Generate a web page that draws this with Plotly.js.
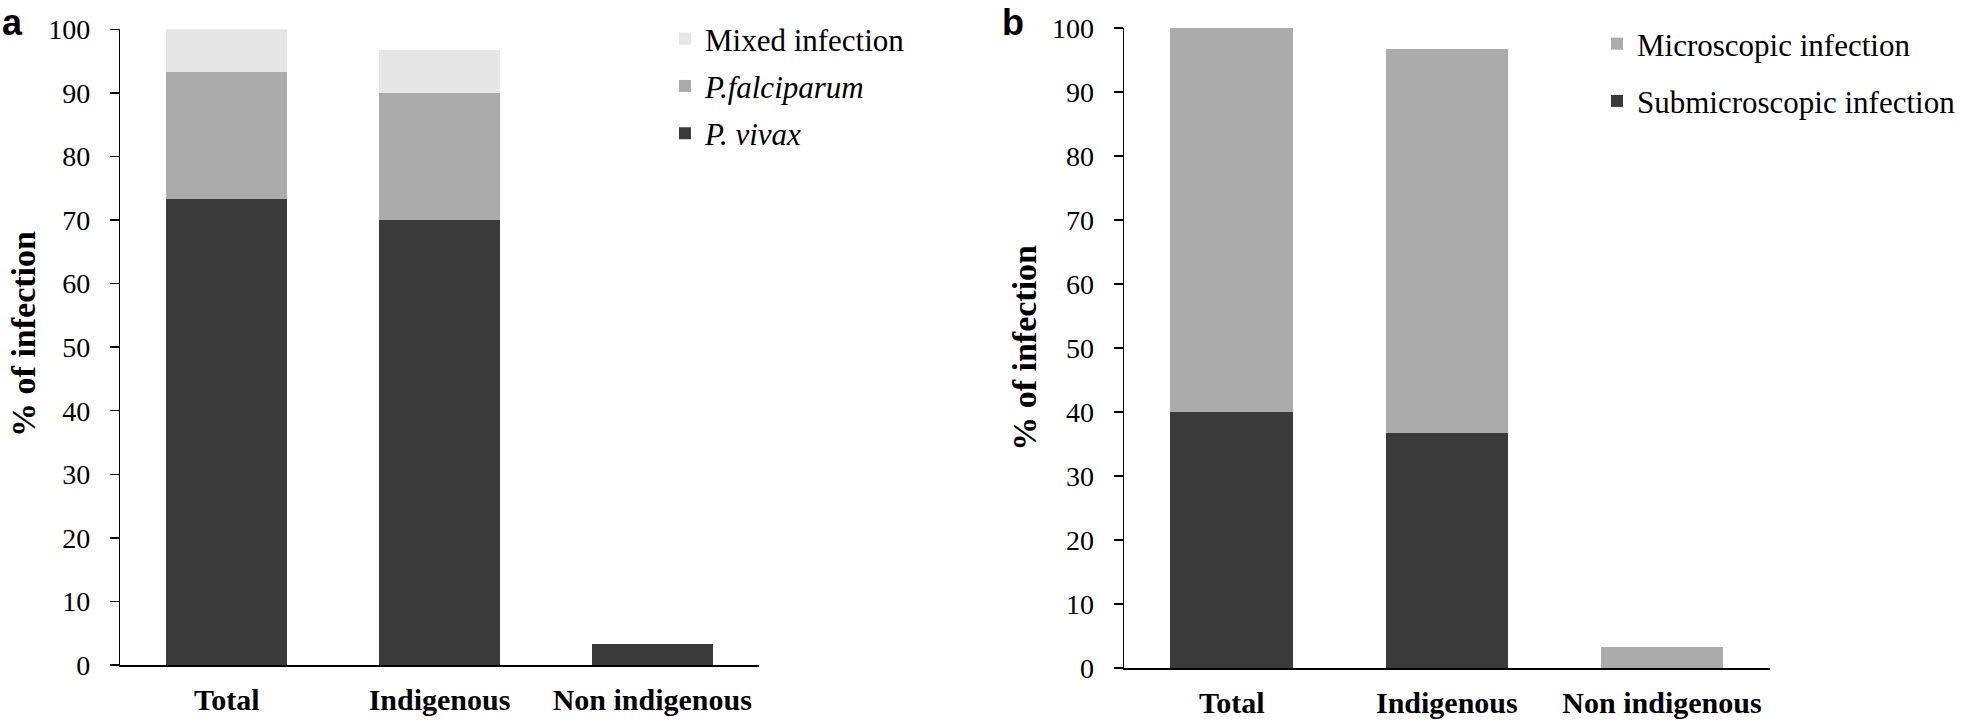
<!DOCTYPE html>
<html>
<head>
<meta charset="utf-8">
<script src="https://cdn.plot.ly/plotly-3.0.1.min.js"></script>
<style>html,body{margin:0;padding:0;background:#fff;}#chart{width:1961px;height:724px;}</style>
</head>
<body>
<div id="chart"></div>
<script>
// ---- data ----
const categories = ["Total", "Indigenous", "Non indigenous"];
// panel a: species (% of infection)
const vivax = [73.3, 70.0, 3.3];
const falciparum = [20.0, 20.0, 0];
const mixed = [6.7, 6.7, 0];
// panel b: detection
const submicroscopic = [40.0, 36.7, 0];
const microscopic = [60.0, 60.0, 3.3];
const yTicks = [0, 10, 20, 30, 40, 50, 60, 70, 80, 90, 100];

const W = 1961, H = 724;
const DARK = "#3a3a3a", MID = "#ababab", LIGHT = "#e6e6e6";
const serif = "Liberation Serif, Times New Roman, serif";

function bar(y, name, color, xa, ya, legend, rank) {
  return {
    type: "bar", x: categories, y: y, name: name,
    xaxis: xa, yaxis: ya, legend: legend, legendgroup: name, legendrank: rank,
    marker: {color: color, line: {width: 0}},
    hoverinfo: "x+y+name"
  };
}

const traces = [
  bar(vivax, "<i>P. vivax</i>", DARK, "x", "y", "legend", 3),
  bar(falciparum, "<i>P.falciparum</i>", MID, "x", "y", "legend", 2),
  bar(mixed, "Mixed infection", LIGHT, "x", "y", "legend", 1),
  bar(submicroscopic, "Submicroscopic infection", DARK, "x2", "y2", "legend2", 2),
  bar(microscopic, "Microscopic infection", MID, "x2", "y2", "legend2", 1)
];

function yaxis(domain, anchor) {
  return {
    domain: domain, anchor: anchor, range: [0, 100], fixedrange: true,
    tickvals: yTicks, ticktext: yTicks.map(String),
    ticks: "outside", ticklen: 9, tickwidth: 1.5, tickcolor: "#000",
    ticklabelstandoff: 14,
    showline: true, linecolor: "#000", linewidth: 1.5,
    showgrid: false, zeroline: false,
    tickfont: {family: serif, size: 28, color: "#000"}
  };
}
function xaxis(domain, anchor) {
  return {
    domain: domain, anchor: anchor, type: "category", fixedrange: true,
    showline: true, linecolor: "#000", linewidth: 1.5,
    ticks: "", showgrid: false, zeroline: false,
    ticklabelstandoff: 7,
    tickfont: {family: serif, size: 30, color: "#000", weight: "bold"}
  };
}

const legendFont = {family: serif, size: 31, color: "#000"};
const layout = {
  width: W, height: H,
  margin: {l: 0, r: 0, t: 0, b: 0},
  paper_bgcolor: "#fff", plot_bgcolor: "#fff",
  barmode: "stack", bargap: 0.43,
  showlegend: true,
  xaxis: xaxis([120.7 / W, 761 / W], "y"),
  yaxis: yaxis([(H - 665) / H, (H - 29.3) / H], "x"),
  xaxis2: xaxis([1127.6 / W, 1775 / W], "y2"),
  yaxis2: yaxis([(H - 668) / H, (H - 28) / H], "x2"),
  legend: {x: 667 / W, xanchor: "left", y: (H - 12) / H, yanchor: "top",
           font: legendFont, bgcolor: "rgba(0,0,0,0)",
           traceorder: "grouped", tracegroupgap: 4},
  legend2: {x: 1602 / W, xanchor: "left", y: (H - 17) / H, yanchor: "top",
            font: legendFont, bgcolor: "rgba(0,0,0,0)",
            traceorder: "grouped", tracegroupgap: 14},
  annotations: [
    {text: "a", xref: "paper", yref: "paper", x: 0 / W, y: (H - 23) / H,
     xanchor: "left", yanchor: "middle", showarrow: false,
     font: {family: "Liberation Sans, Arial, sans-serif", size: 36, color: "#000", weight: "bold"}},
    {text: "b", xref: "paper", yref: "paper", x: 1003 / W, y: (H - 23) / H,
     xanchor: "left", yanchor: "middle", showarrow: false,
     font: {family: "Liberation Sans, Arial, sans-serif", size: 36, color: "#000", weight: "bold"}},
    {text: "% of infection", xref: "paper", yref: "paper", x: 23 / W, y: (H - 334) / H,
     xanchor: "center", yanchor: "middle", textangle: -90, showarrow: false,
     font: {family: serif, size: 34, color: "#000", weight: "bold"}},
    {text: "% of infection", xref: "paper", yref: "paper", x: 1027 / W, y: (H - 348) / H,
     xanchor: "center", yanchor: "middle", textangle: -90, showarrow: false,
     font: {family: serif, size: 34, color: "#000", weight: "bold"}}
  ]
};

Plotly.newPlot("chart", traces, layout, {displayModeBar: false, staticPlot: true});
</script>
</body>
</html>
